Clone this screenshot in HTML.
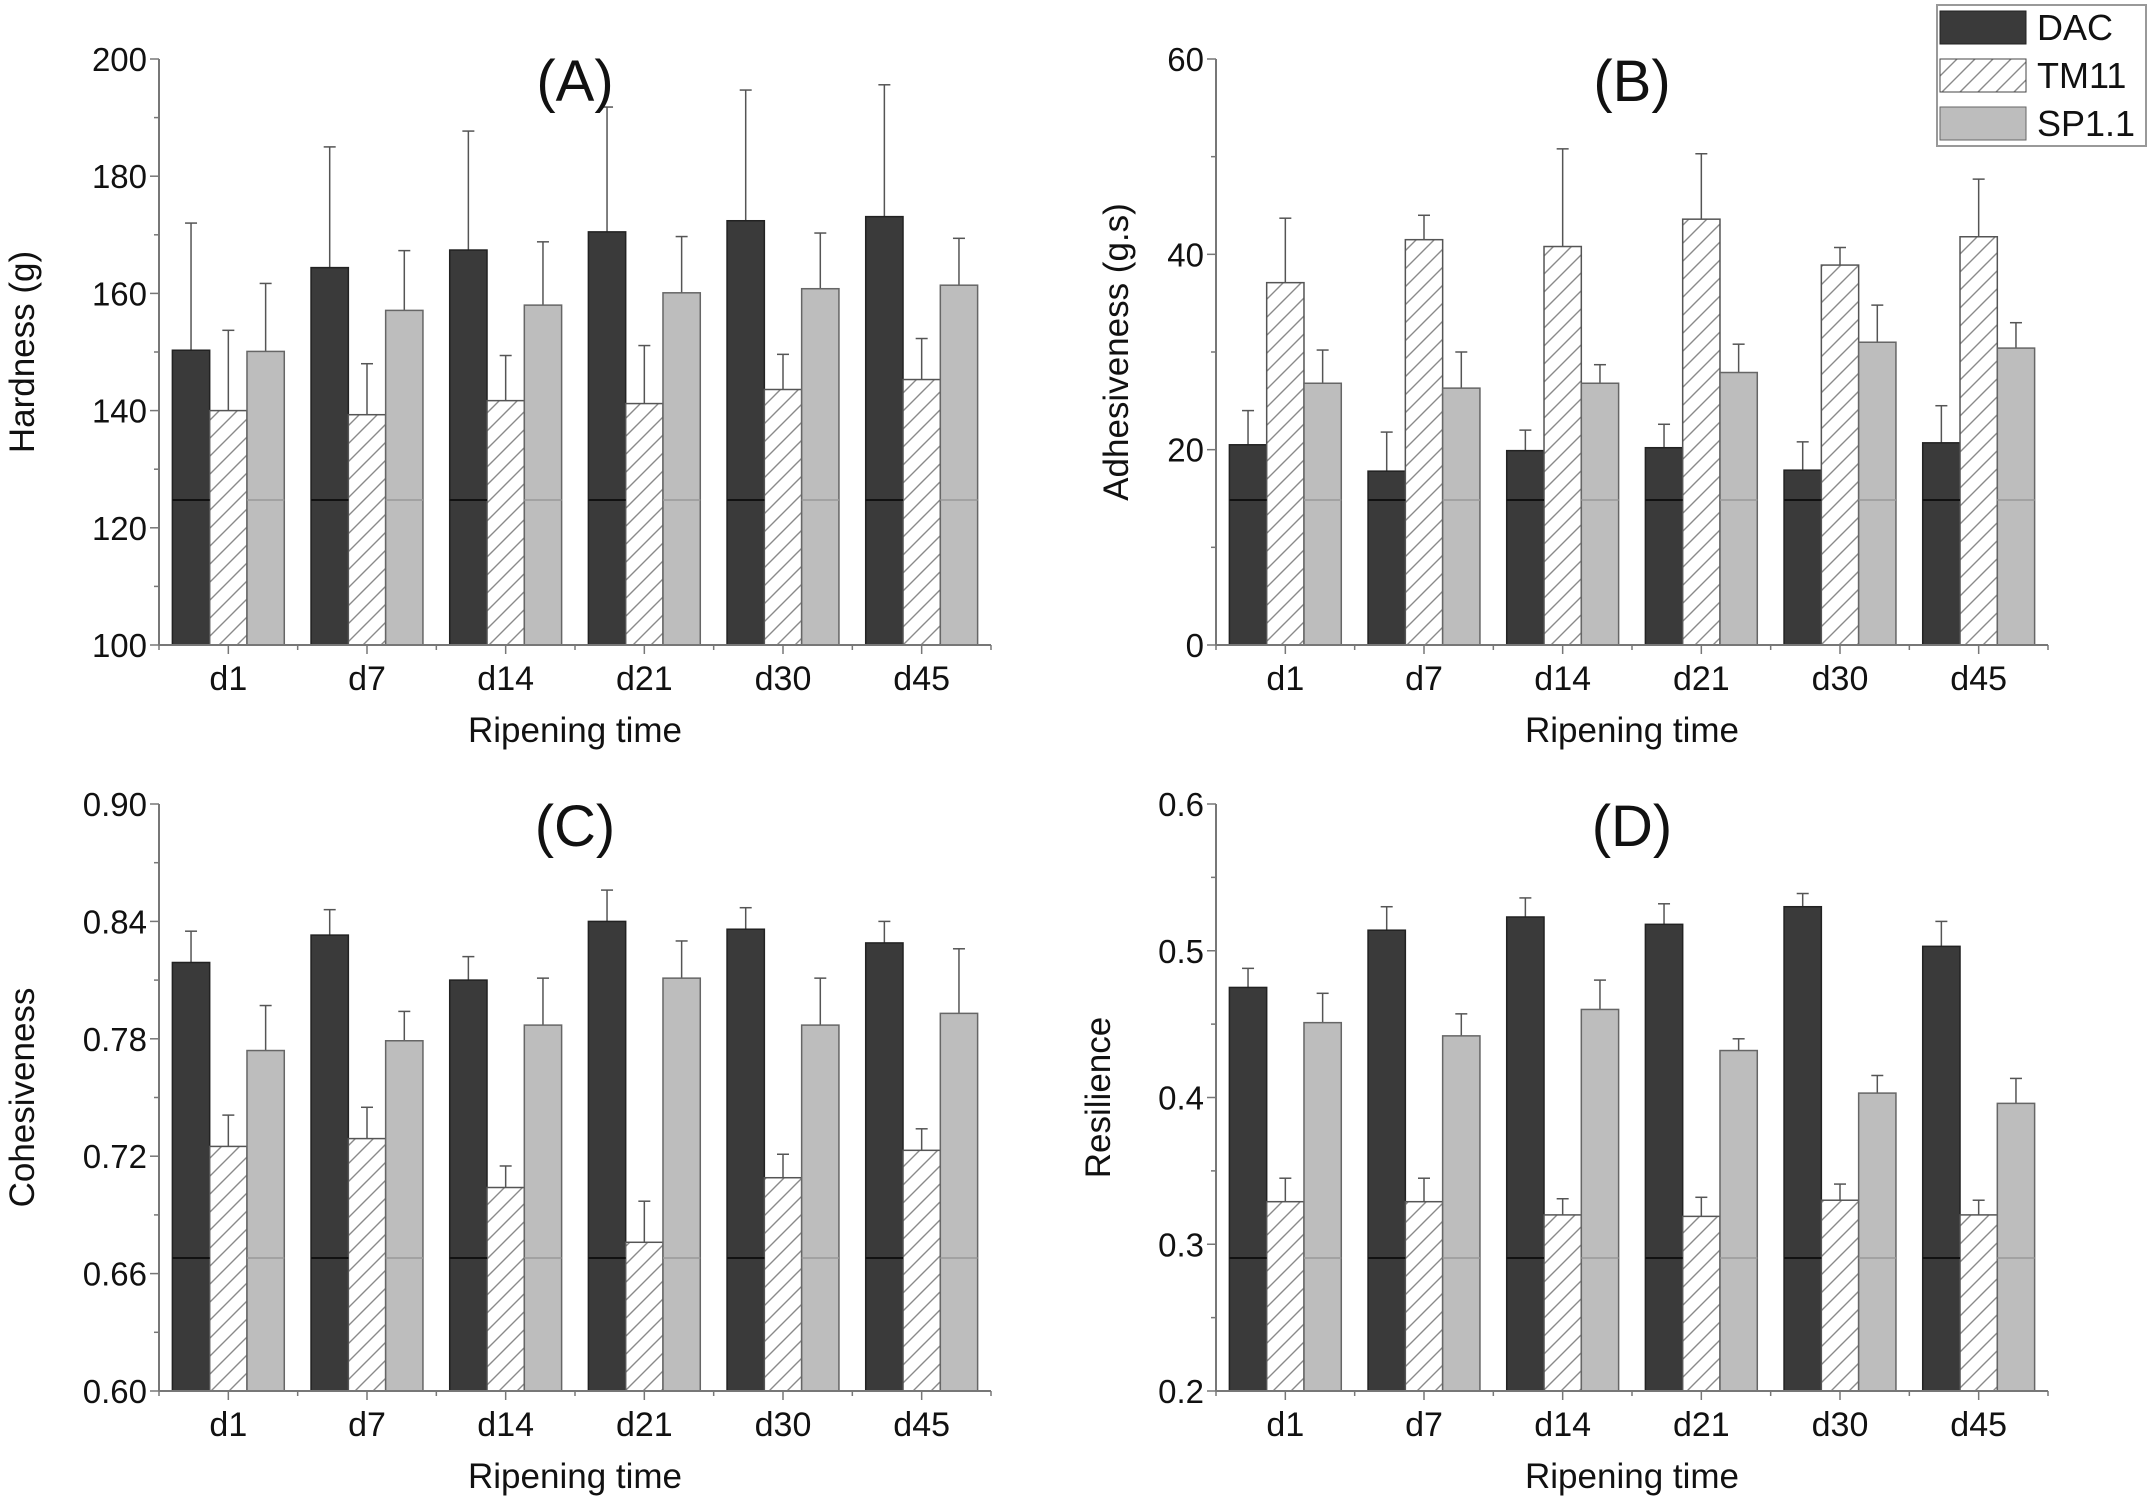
<!DOCTYPE html>
<html><head><meta charset="utf-8"><style>
body{margin:0;background:#fff}
svg text{font-family:"Liberation Sans",Arial,sans-serif;fill:#111}
</style></head><body>
<svg id="fig" width="2151" height="1504" viewBox="0 0 2151 1504" xmlns="http://www.w3.org/2000/svg">
<defs>
<pattern id="hatch" patternUnits="userSpaceOnUse" width="18" height="18" patternTransform="rotate(0)">
<rect width="18" height="18" fill="#fff"/>
<path d="M-2,20 L20,-2 M-2,2 L2,-2 M16,20 L20,16" stroke="#8a8a8a" stroke-width="1.4"/>
</pattern>
</defs>
<g id="legend">
<rect x="1937" y="5" width="209" height="141" fill="#fff" stroke="#999" stroke-width="2"/>
<g><rect x="1940" y="11" width="86" height="33" fill="#3a3a3a" stroke="#222"/><text x="2037" y="40" font-size="36">DAC</text></g>
<g><rect x="1940" y="59" width="86" height="33" fill="url(#hatch)" stroke="#444"/><text x="2037" y="88" font-size="36">TM11</text></g>
<g><rect x="1940" y="107" width="86" height="33" fill="#bdbdbd" stroke="#666"/><text x="2037" y="136" font-size="36">SP1.1</text></g>
</g>
</svg>
<script>
const categories=["d1","d7","d14","d21","d30","d45"];
const seriesNames=["DAC","TM11","SP1.1"];
// Panel A: Hardness
const hardDAC=[150.3,164.4,167.4,170.5,172.4,173.1];
const hardDACerr=[172,185,187.7,191.8,194.7,195.6];
const hardTM=[140,139.3,141.7,141.2,143.6,145.3];
const hardTMerr=[153.7,148,149.4,151.1,149.6,152.3];
const hardSP=[150.1,157.1,158,160.1,160.8,161.4];
const hardSPerr=[161.7,167.3,168.8,169.7,170.3,169.4];
const hardTicks=[100,120,140,160,180,200];
// Panel B: Adhesiveness
const adhDAC=[20.5,17.8,19.9,20.2,17.9,20.7];
const adhDACerr=[24,21.8,22,22.6,20.8,24.5];
const adhTM=[37.1,41.5,40.8,43.6,38.9,41.8];
const adhTMerr=[43.7,44,50.8,50.3,40.7,47.7];
const adhSP=[26.8,26.3,26.8,27.9,31,30.4];
const adhSPerr=[30.2,30,28.7,30.8,34.8,33];
const adhTicks=[0,20,40,60];
// Panel C: Cohesiveness
const cohDAC=[0.819,0.833,0.810,0.840,0.836,0.829];
const cohDACerr=[0.835,0.846,0.822,0.856,0.847,0.840];
const cohTM=[0.725,0.729,0.704,0.676,0.709,0.723];
const cohTMerr=[0.741,0.745,0.715,0.697,0.721,0.734];
const cohSP=[0.774,0.779,0.787,0.811,0.787,0.793];
const cohSPerr=[0.797,0.794,0.811,0.830,0.811,0.826];
const cohTicks=["0.60","0.66","0.72","0.78","0.84","0.90"];
// Panel D: Resilience
const resDAC=[0.475,0.514,0.523,0.518,0.530,0.503];
const resDACerr=[0.488,0.530,0.536,0.532,0.539,0.520];
const resTM=[0.329,0.329,0.320,0.319,0.330,0.320];
const resTMerr=[0.345,0.345,0.331,0.332,0.341,0.330];
const resSP=[0.451,0.442,0.460,0.432,0.403,0.396];
const resSPerr=[0.471,0.457,0.480,0.440,0.415,0.413];
const resTicks=["0.2","0.3","0.4","0.5","0.6"];

const NS="http://www.w3.org/2000/svg";
const svg=document.getElementById('fig');
function mk(tag,attrs,parent){const e=document.createElementNS(NS,tag);for(const k in attrs)e.setAttribute(k,attrs[k]);(parent||svg).appendChild(e);return e;}

function panel(o){
  const g=mk('g',{});
  
  
  const x0=o.x0,x1=o.x1,yT=o.yT,yB=o.yB;
  const ticks=o.ticks.map(Number);
  const vmin=ticks[0],vmax=ticks[ticks.length-1];
  const ys=v=>yB-(v-vmin)/(vmax-vmin)*(yB-yT);
  const cw=(x1-x0)/categories.length;
  const bw=cw*0.269;
  const fills=["#3a3a3a","url(#hatch)","#bdbdbd"];
  const strokes=["#222","#555","#666"];
  const vals=[o.v[0],o.v[1],o.v[2]];
  const errs=[o.e[0],o.e[1],o.e[2]];
  categories.forEach((c,i)=>{
    const cx=x0+cw*(i+0.5);
    for(let s=0;s<3;s++){
      const bx=cx-1.5*bw+s*bw;
      const cxb=bx+bw/2;
      const ye=ys(errs[s][i]);
      const el=mk('line',{x1:cxb,x2:cxb,y1:ys(vals[s][i]),y2:ye,stroke:'#555','stroke-width':1.5},g);
      
      
      const cap=mk('line',{x1:cxb-6,x2:cxb+6,y1:ye,y2:ye,stroke:'#555','stroke-width':1.5},g);
      
      
      const r=mk('rect',{x:bx,y:ys(vals[s][i]),width:bw,height:yB-ys(vals[s][i]),fill:fills[s],stroke:strokes[s],'stroke-width':1.5},g);
      
      
    }
    // category label & tick
    mk('line',{x1:cx,x2:cx,y1:yB,y2:yB+9,stroke:'#777','stroke-width':1.5},g);
    mk('line',{x1:x0+cw*i,x2:x0+cw*i,y1:yB,y2:yB+5,stroke:'#777','stroke-width':1.5},g);
    const t=mk('text',{x:cx,y:yB+45,'font-size':34,'text-anchor':'middle'},g);
    t.textContent=c;
    
    
  });
  // artifact line across bars
  const ly=o.artY;
  categories.forEach((c,i)=>{const cx=x0+cw*(i+0.5);
    mk('line',{x1:cx-1.5*bw,x2:cx-0.5*bw,y1:ly,y2:ly,stroke:'#111','stroke-width':2},g);
    mk('line',{x1:cx+0.5*bw,x2:cx+1.5*bw,y1:ly,y2:ly,stroke:'#999','stroke-width':1.5},g);});
  // axes
  const ax=mk('line',{x1:x0,x2:x0,y1:yT,y2:yB,stroke:'#777','stroke-width':2},g);
  
  const bx=mk('line',{x1:x0,x2:x1,y1:yB,y2:yB,stroke:'#777','stroke-width':2},g);
  
  mk('line',{x1:x1,x2:x1,y1:yB,y2:yB+5,stroke:'#777','stroke-width':1.5},g);
  o.ticks.forEach((tk,k)=>{
    const y=ys(Number(tk));
    mk('line',{x1:x0-9,x2:x0,y1:y,y2:y,stroke:'#777','stroke-width':1.5},g);
    if(k<o.ticks.length-1){const ym=(y+ys(Number(o.ticks[k+1])))/2;mk('line',{x1:x0-5,x2:x0,y1:ym,y2:ym,stroke:'#777','stroke-width':1.5},g);}
    const t=mk('text',{x:x0-12,y:y+12,'font-size':33,'text-anchor':'end'},g);
    t.textContent=tk;
    
    
  });
  const tt=mk('text',{x:(x0+x1)/2,y:yT+42,'font-size':58,'text-anchor':'middle'},g);
  tt.textContent=o.title;
  
  
  const xt=mk('text',{x:(x0+x1)/2,y:yB+97,'font-size':35,'text-anchor':'middle'},g);
  xt.textContent='Ripening time';
  
  
  const yc=(yT+yB)/2;
  const yt=mk('text',{x:o.ylx,y:yc,'font-size':35,'text-anchor':'middle',transform:`rotate(-90 ${o.ylx} ${yc})`},g);
  yt.textContent=o.ylabel;
  
  
}
panel({name:'panel-a-hardness',x0:159,x1:991,yT:59,yB:645,ticks:hardTicks,v:[hardDAC,hardTM,hardSP],e:[hardDACerr,hardTMerr,hardSPerr],title:'(A)',ylabel:'Hardness (g)',ylx:34,artY:500});
panel({name:'panel-b-adhesiveness',x0:1216,x1:2048,yT:59,yB:645,ticks:adhTicks,v:[adhDAC,adhTM,adhSP],e:[adhDACerr,adhTMerr,adhSPerr],title:'(B)',ylabel:'Adhesiveness (g.s)',ylx:1128,artY:500});
panel({name:'panel-c-cohesiveness',x0:159,x1:991,yT:804,yB:1391,ticks:cohTicks,v:[cohDAC,cohTM,cohSP],e:[cohDACerr,cohTMerr,cohSPerr],title:'(C)',ylabel:'Cohesiveness',ylx:34,artY:1258});
panel({name:'panel-d-resilience',x0:1216,x1:2048,yT:804,yB:1391,ticks:resTicks,v:[resDAC,resTM,resSP],e:[resDACerr,resTMerr,resSPerr],title:'(D)',ylabel:'Resilience',ylx:1110,artY:1258});
svg.appendChild(document.getElementById('legend'));
</script>
</body></html>
